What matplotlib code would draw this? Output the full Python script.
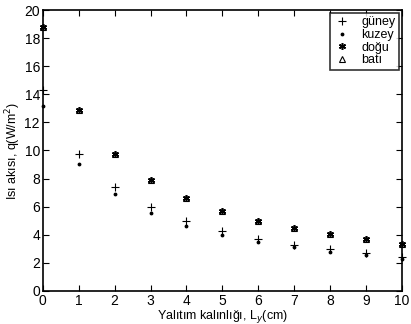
import matplotlib
matplotlib.use("Agg")
import matplotlib.pyplot as plt

plt.rcParams['font.family'] = ['Liberation Sans', 'DejaVu Sans']

x = [0, 1, 2, 3, 4, 5, 6, 7, 8, 9, 10]
guney = [14.3, 9.75, 7.38, 5.96, 5.0, 4.27, 3.7, 3.27, 2.99, 2.73, 2.44]
kuzey = [13.2, 9.04, 6.88, 5.53, 4.63, 3.99, 3.47, 3.13, 2.8, 2.54, 2.3]
dogu = [18.8, 12.85, 9.75, 7.88, 6.6, 5.7, 5.0, 4.45, 4.02, 3.67, 3.32]
bati = [18.8, 12.85, 9.75, 7.88, 6.6, 5.7, 5.0, 4.45, 4.02, 3.67, 3.32]
xticks = list(range(0, 11))
yticks = list(range(0, 21, 2))

fig = plt.figure(figsize=(4.11, 3.24), dpi=100)
ax = fig.add_axes([0.104, 0.102, 0.874, 0.867])
ax.plot(x, guney, linestyle='none', marker='+', color='k', markersize=5.5, markeredgewidth=0.8, label='güney', clip_on=False)
ax.plot(x, kuzey, linestyle='none', marker='.', color='k', markersize=3.5, label='kuzey', clip_on=False)
ax.plot(x, dogu, linestyle='none', marker=(6, 2, 0), color='k', markersize=5, markeredgewidth=1.1, label='doğu', clip_on=False)
ax.plot(x, bati, linestyle='none', marker='^', markerfacecolor='none', markeredgecolor='k', markersize=5, markeredgewidth=0.8, label='batı', clip_on=False)

ax.set_xlim(0, 10)
ax.set_ylim(0, 20)
ax.set_xticks(xticks)
ax.set_yticks(yticks)
ax.tick_params(direction='in', top=True, right=True, length=4, width=0.8, labelsize=10, pad=2)
for s in ax.spines.values():
    s.set_linewidth(1.2)
ax.set_xlabel('Yalıtım kalınlığı, L$_y$(cm)', fontsize=9, labelpad=0)
ax.set_ylabel('Isı akısı, q(W/m$^2$)', fontsize=9, labelpad=1)
leg = ax.legend(loc='upper right', fontsize=9, frameon=True, fancybox=False, edgecolor='k',
                handlelength=1.3, handletextpad=0.9, borderpad=0.3, labelspacing=0.05,
                borderaxespad=0.2)
leg.get_frame().set_linewidth(1.2)
fig.savefig('out.png', dpi=100)
